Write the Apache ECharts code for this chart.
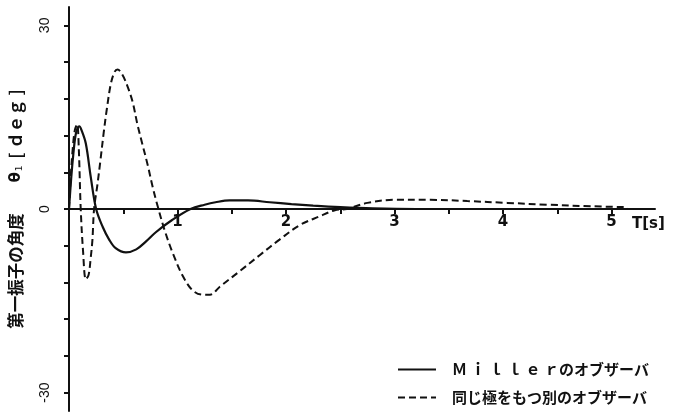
<!DOCTYPE html>
<html>
<head>
<meta charset="utf-8">
<script src="https://cdn.jsdelivr.net/npm/echarts@6/dist/echarts.min.js"></script>
<style>
  html, body { margin: 0; padding: 0; background: #fff; }
  #chart { width: 692px; height: 417px; }
</style>
</head>
<body>
<div id="chart"></div>
<script>
// Time samples [s] and first-pendulum angle [deg] for each observer
const millerT = [0, 0.02, 0.04, 0.06, 0.08, 0.095, 0.115, 0.155, 0.2, 0.25, 0.31, 0.37, 0.43, 0.525, 0.62, 0.71, 0.8, 0.95, 1.12, 1.25, 1.35, 1.48, 1.65, 1.85, 2.05, 2.25, 2.5, 2.8, 3.2, 3.8, 4.5, 5.2];
const millerV = [0, 5, 9, 12, 13.3, 13.5, 12.9, 10.7, 5.3, 0, -2.9, -5, -6.4, -7.1, -6.6, -5.3, -3.8, -1.8, 0, 0.7, 1.1, 1.4, 1.4, 1.1, 0.8, 0.55, 0.3, 0.1, 0, 0, 0, 0];

const otherT = [0, 0.015, 0.035, 0.055, 0.075, 0.09, 0.108, 0.13, 0.155, 0.18, 0.2, 0.216, 0.231, 0.262, 0.29, 0.32, 0.35, 0.386, 0.42, 0.447, 0.49, 0.54, 0.586, 0.632, 0.679, 0.725, 0.771, 0.818, 0.88, 0.956, 1.05, 1.14, 1.23, 1.3, 1.39, 1.57, 1.76, 1.94, 2.13, 2.31, 2.45, 2.56, 2.75, 3.0, 3.33, 3.67, 4.04, 4.41, 4.81, 5.15];
const otherV = [0, 5, 10, 13, 13.8, 10, 0, -7, -11.5, -10.8, -8, -5, 0, 4, 8, 12.5, 16.5, 20.5, 22.4, 22.8, 22, 20, 17.5, 13.7, 10.4, 7.2, 3.6, 0.4, -3.4, -7.2, -11, -13.3, -14, -14, -12.7, -10.2, -7.5, -5, -2.6, -1.2, -0.2, 0, 1.0, 1.5, 1.5, 1.3, 1.0, 0.7, 0.45, 0.3];

const seriesNames = ['Ｍ ｉ ｌ ｌ ｅ ｒのオブザーバ', '同じ極をもつ別のオブザーバ'];

// Axis ticks and labels
const xTicks = [0.5, 1, 1.5, 2, 2.5, 3, 3.5, 4, 4.5, 5];
const xLabels = [1, 2, 3, 4, 5];
const yTicks = [-30, -24, -18, -12, -6, 0, 6, 12, 18, 24, 30];
const yLabels = [-30, 0, 30];

const Y_MIN = -33, Y_MAX = 33;
const GRID = { left: 69, right: 37, top: 7, bottom: 6 };

const pairs = (ts, vs) => ts.map((t, i) => [t, vs[i]]);

const ink = '#111';
const jpFont = '"Noto Sans CJK JP", "Noto Sans", sans-serif';

const chart = echarts.init(document.getElementById('chart'), null, { renderer: 'canvas' });

// the time axis sits on the zero line: shift it up from the grid bottom
const plotH = 417 - GRID.top - GRID.bottom;
const zeroOffset = -plotH * (0 - Y_MIN) / (Y_MAX - Y_MIN);

chart.setOption({
  backgroundColor: '#fff',
  animation: false,
  grid: Object.assign({ containLabel: false, outerBoundsMode: 'none' }, GRID),
  legend: {
    orient: 'vertical',
    left: 392,
    top: 357,
    itemWidth: 38,
    itemHeight: 14,
    itemGap: 13,
    data: seriesNames,
    itemStyle: { opacity: 0 },
    textStyle: {
      color: ink,
      fontFamily: jpFont,
      fontWeight: 'bold',
      fontSize: 15,
      padding: [0, 0, 0, 11]
    }
  },
  xAxis: {
    type: 'value',
    min: 0,
    max: 5.4,
    position: 'bottom',
    offset: zeroOffset,
    name: 'T[s]',
    nameLocation: 'end',
    nameGap: -23,
    nameTextStyle: {
      color: ink,
      fontFamily: 'DejaVu Sans, sans-serif',
      fontWeight: 'bold',
      fontSize: 15,
      align: 'left',
      verticalAlign: 'top',
      padding: [8, 0, 0, 0]
    },
    axisLine: { onZero: false, lineStyle: { color: ink, width: 2 } },
    axisTick: { show: true, customValues: xTicks, length: 5, lineStyle: { color: ink, width: 2 } },
    axisLabel: {
      customValues: xLabels,
      margin: 6,
      color: ink,
      fontFamily: 'DejaVu Sans, sans-serif',
      fontWeight: 'bold',
      fontSize: 15
    },
    splitLine: { show: false }
  },
  yAxis: {
    type: 'value',
    min: Y_MIN,
    max: Y_MAX,
    name: '{a|第一振子の角度}　　  {b|θ}{s|1}  {a|[ ｄｅｇ ]}',
    nameLocation: 'middle',
    nameRotate: 90,
    nameGap: 45,
    nameTextStyle: {
      color: ink,
      rich: {
        a: { fontFamily: jpFont, fontWeight: 'bold', fontSize: 16.5, color: ink },
        b: { fontFamily: 'DejaVu Sans, sans-serif', fontWeight: 'bold', fontSize: 15, color: ink },
        s: { fontFamily: 'DejaVu Sans, sans-serif', fontSize: 9, color: ink, verticalAlign: 'bottom', padding: [6, 0, 0, 1] }
      }
    },
    axisLine: { onZero: false, lineStyle: { color: ink, width: 2 } },
    axisTick: { show: true, customValues: yTicks, length: 5, lineStyle: { color: ink, width: 2 } },
    axisLabel: {
      customValues: yLabels,
      rotate: 90,
      margin: 17,
      color: ink,
      fontFamily: 'Liberation Sans, Arial, sans-serif',
      fontSize: 14
    },
    splitLine: { show: false }
  },
  series: [
    {
      name: seriesNames[0],
      type: 'line',
      data: pairs(millerT, millerV),
      smooth: 0.35,
      symbol: 'none',
      lineStyle: { color: ink, width: 2.2, type: 'solid' },
      itemStyle: { color: ink },
      z: 3
    },
    {
      name: seriesNames[1],
      type: 'line',
      data: pairs(otherT, otherV),
      smooth: 0.35,
      symbol: 'none',
      lineStyle: { color: ink, width: 2, type: [7, 4] },
      itemStyle: { color: ink },
      z: 2
    }
  ]
});
</script>
</body>
</html>
